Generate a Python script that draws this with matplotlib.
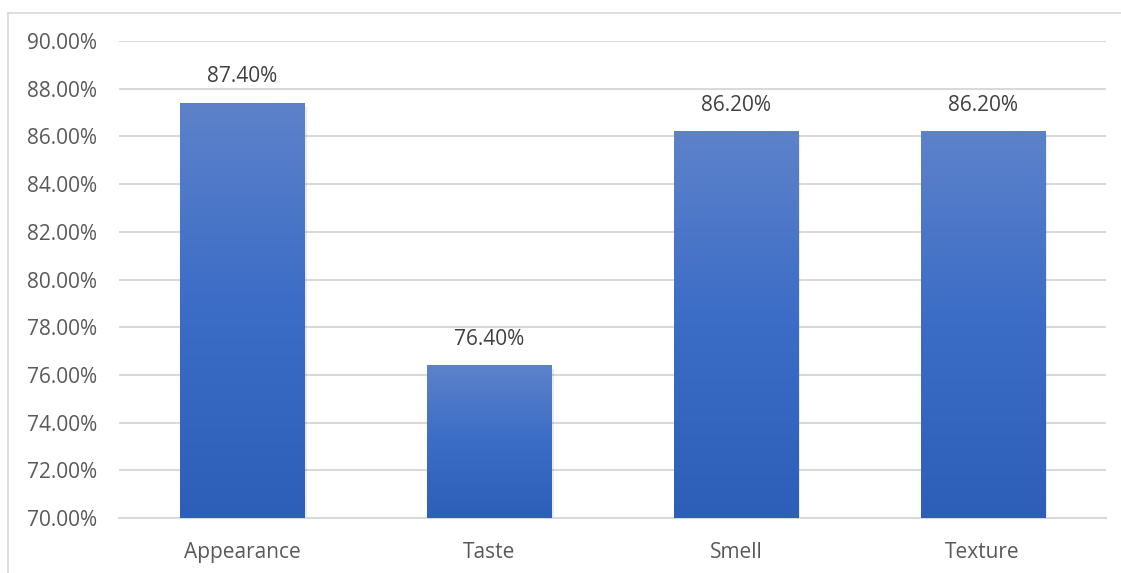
import numpy as np
import matplotlib.pyplot as plt
from matplotlib.colors import LinearSegmentedColormap
from matplotlib.lines import Line2D

# données
categories = ['Appearance', 'Taste', 'Smell', 'Texture']
values = [87.40, 76.40, 86.20, 86.20]
yticks = [70, 72, 74, 76, 78, 80, 82, 84, 86, 88, 90]

plt.rcParams['font.family'] = ['Open Sans', 'DejaVu Sans']

fig = plt.figure(figsize=(11.21, 5.73), dpi=100)
ax = fig.add_axes([0.1062, 0.0960, 0.8804, 0.8324])

x = np.arange(len(categories))
bar_w = 0.503
bars = ax.bar(x, [v - 70 for v in values], bottom=70, width=bar_w, color='none', zorder=3)

# dégradé vertical pour chaque barre
cmap = LinearSegmentedColormap.from_list('grad', ['#2D5FB9', '#3B6CC6', '#5D82CA'])
grad = np.linspace(0, 1, 256).reshape(-1, 1)
for b, v in zip(bars, values):
    x0 = b.get_x()
    # ombre légère
    ax.bar(x0 + bar_w / 2 + 0.005, v - 70, bottom=69.85, width=bar_w + 0.01,
           color='#000000', alpha=0.08, zorder=2)
    ax.imshow(grad, cmap=cmap, origin='lower', aspect='auto',
              extent=[x0, x0 + bar_w, 70, v], zorder=3)
    ax.text(x0 + bar_w / 2, v + 1.1, f'{v:.2f}%', ha='center', va='center',
            fontsize=15, color='#404040', zorder=4)

ax.set_xlim(-0.5, len(categories) - 0.5)
ax.set_ylim(70, 90)
ax.set_yticks(yticks)
ax.set_yticklabels([f'{t:.2f}%' for t in yticks])
ax.set_xticks(x)
ax.set_xticklabels(categories)
ax.tick_params(axis='both', length=0, labelsize=15, colors='#595959')
ax.tick_params(axis='x', pad=17)
ax.tick_params(axis='y', pad=16)
ax.grid(axis='y', color='#D9D9D9', linewidth=1.5, zorder=0)
ax.set_axisbelow(True)
for s in ['top', 'right', 'left']:
    ax.spines[s].set_visible(False)
ax.spines['bottom'].set_color('#D9D9D9')
ax.spines['bottom'].set_linewidth(1.5)

# bordure du graphique
fig.add_artist(Line2D([7.5 / 1121, 7.5 / 1121], [0, 1 - 12.5 / 573], color='#D9D9D9', lw=1.2))
fig.add_artist(Line2D([7.5 / 1121, 1], [1 - 12.5 / 573, 1 - 12.5 / 573], color='#D9D9D9', lw=1.2))

fig.savefig('out.png', dpi=100)
